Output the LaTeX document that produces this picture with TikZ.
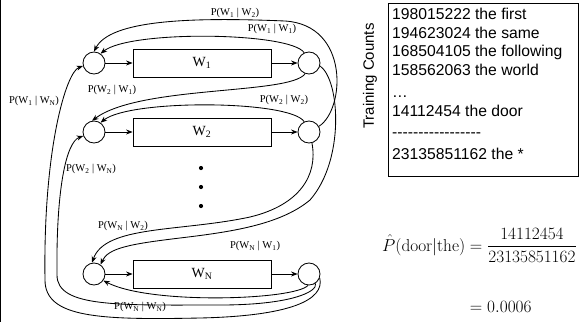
\documentclass[tikz,border=0pt]{standalone}
\usepackage{fontspec}
\usetikzlibrary{arrows.meta,calc}
\newfontfamily\tnr{Liberation Serif}
\newfontfamily\arialf{Liberation Sans}
\newcommand\pwlab[2]{P(W\textsubscript{#1} | W\textsubscript{#2})}
\newcommand\dsh{-\kern0pt}
\begin{document}
\begin{tikzpicture}[x=1pt,y=-1pt,
  st/.style={circle,draw,line width=0.85pt,minimum size=22pt,inner sep=0pt},
  wbox/.style={draw,line width=0.85pt,minimum width=138pt,minimum height=28pt,inner sep=0pt,font=\tnr\fontsize{14}{16}\selectfont},
  lab/.style={font=\tnr\fontsize{10.5}{12}\selectfont,inner sep=1pt},
  arc/.style={line width=0.85pt,-{Stealth[length=6.5pt,width=5pt]}},
  cnt/.style={font=\arialf\fontsize{15.7}{18}\selectfont,anchor=base west,inner sep=0pt},
  frm/.style={font=\LARGE,inner sep=0pt},
]
\useasboundingbox (0,0) rectangle (580,322);
\draw[line width=1pt] (0.7,0) -- (0.7,322);
% states
\node[st] (L1) at (94,63) {};
\node[wbox] (B1) at (202,63) {W\textsubscript{1}};
\node[st] (R1) at (309,63) {};
\node[st] (L2) at (94,132) {};
\node[wbox] (B2) at (202,132) {W\textsubscript{2}};
\node[st] (R2) at (309,132) {};
\node[st] (LN) at (94,274) {};
\node[wbox] (BN) at (202,274) {W\textsubscript{N}};
\node[st] (RN) at (309,274) {};
\foreach \y in {168,187,206} \fill (201,\y) circle (2.1pt);
\foreach \r in {1,2,N} {
  \draw[arc] (L\r) -- (B\r);
  \draw[arc] (B\r) -- (R\r);
}
% transitions
\draw[arc] (R1.115) .. controls (290,32) and (130,30) .. (L1.55);
\draw[arc] (R2.30) .. controls (345,110) and (350,25) .. (285,21) .. controls (190,17) and (110,20) .. (L1.90);
\draw[arc] (RN.-20) .. controls (325,300) and (290,316) .. (200,318) .. controls (100,320) and (45,318) .. (45,280) .. controls (43,150) and (66,72) .. (L1.195);
\draw[arc] (R1.-110) .. controls (290,95) and (140,85) .. (L2.100);
\draw[arc] (R2.115) .. controls (290,100) and (130,99) .. (L2.55);
\draw[arc] (RN.-55) .. controls (318,292) and (290,305) .. (220,305) .. controls (120,305) and (57,308) .. (57,275) .. controls (56,190) and (66,142) .. (L2.200);
\draw[arc] (R2.-75) .. controls (318,175) and (300,205) .. (250,217) .. controls (180,232) and (105,225) .. (LN.100);
\draw[arc] (R1.-15) .. controls (340,80) and (345,160) .. (310,200) .. controls (280,225) and (230,232) .. (180,238) .. controls (130,244) and (108,248) .. (LN.55);
\draw[arc] (RN.-95) .. controls (295,300) and (150,305) .. (LN.-35);
% labels
\node[lab] (p12) at (235,13) {\pwlab{1}{2}};
\node[lab] (p11) at (272,29) {\pwlab{1}{1}};
\node[lab] (p1N) at (34,101) {\pwlab{1}{N}};
\node[lab] (p21) at (112,90) {\pwlab{2}{1}};
\node[lab] (p22) at (284,100) {\pwlab{2}{2}};
\node[lab] (p2N) at (91,169) {\pwlab{2}{N}};
\node[lab] (pN2) at (123,226) {\pwlab{N}{2}};
\node[lab] (pN1) at (255,246) {\pwlab{N}{1}};
\node[lab] (pNN) at (140,307) {\pwlab{N}{N}};
% training counts
\node[draw,line width=0.8pt,minimum width=190pt,minimum height=173pt,inner sep=0pt] (cbox) at (483,89.5) {};
\node[font=\arialf\fontsize{15}{17}\selectfont,rotate=90,inner sep=0pt] (tc) at (370,76) {Training Counts};
\node[cnt] (t1) at (392,19.5) {198015222 the first};
\node[cnt] (t2) at (392,38) {194623024 the same};
\node[cnt] (t3) at (392,56.5) {168504105 the following};
\node[cnt] (t4) at (392,75) {158562063 the world};
\node[cnt] (t5) at (392,97) {…};
\node[cnt] (t6) at (392,116.5) {14112454 the door};
\node[cnt] (t7) at (392,137) {\dsh\dsh\dsh\dsh\dsh\dsh\dsh\dsh\dsh\dsh\dsh\dsh\dsh\dsh\dsh\dsh\dsh};
\node[cnt] (t8) at (392,159.5) {23135851162 the *};
% formula
\node[frm,anchor=base east] (f1) at (577,251) {$\displaystyle \hat{P}(\mathrm{door}|\mathrm{the}) = \frac{14112454}{23135851162}$};
\node[frm,anchor=base west] (f2) at ($(f1.base west)+(0,61)$) {$\displaystyle \phantom{\hat{P}(\mathrm{door}|\mathrm{the})} = 0.0006$};
\end{tikzpicture}
\end{document}
